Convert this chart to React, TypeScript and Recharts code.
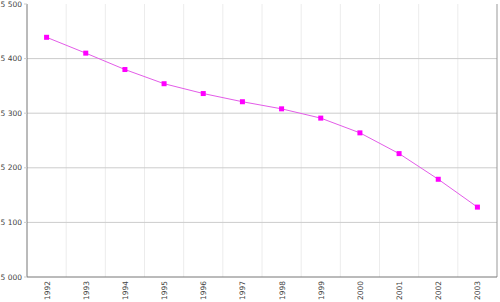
import { CartesianGrid, Line, LineChart, ReferenceLine, XAxis, YAxis } from "recharts";

const years = [1992, 1993, 1994, 1995, 1996, 1997, 1998, 1999, 2000, 2001, 2002, 2003];
const population = [5439, 5410, 5380, 5354, 5336, 5321, 5308, 5291, 5264, 5226, 5179, 5128];
const yTicks = [5000, 5100, 5200, 5300, 5400, 5500];
const hGrid = [5100, 5200, 5300, 5400];
const vGrid = [1992.5, 1993.5, 1994.5, 1995.5, 1996.5, 1997.5, 1998.5, 1999.5, 2000.5, 2001.5, 2002.5];

const data = years.map((year, i) => ({ year, value: population[i] }));

const FONT = "'DejaVu Sans', sans-serif";

// thousands separator as a non-breaking space so the label stays on one line
const fmt = (v: number) => {
  const s = String(v);
  return s.length > 3 ? s.slice(0, s.length - 3) + "\u00a0" + s.slice(-3) : s;
};

function YearTick(props: any) {
  const { x, y, payload } = props;
  return (
    <text
      x={0}
      y={0}
      transform={`translate(${x + 3},${y - 4}) rotate(-90)`}
      textAnchor="end"
      fontSize={7.5}
      fontFamily={FONT}
      fill="#444"
    >
      {payload.value}
    </text>
  );
}

function SquareDot(props: any) {
  const { cx, cy } = props;
  if (cx == null || cy == null) return null;
  return <rect x={cx - 2.5} y={cy - 2.5} width={5} height={5} fill="#ff00ff" />;
}

export default function App() {
  return (
    <div style={{ position: "absolute", left: 0, top: 0, background: "#fff" }}>
      <LineChart width={500} height={302} data={data} margin={{ top: 4, right: 3, left: 0, bottom: 0 }}>
        <CartesianGrid horizontal={false} verticalValues={vGrid} stroke="#ececec" strokeWidth={1} />
        <CartesianGrid vertical={false} horizontalValues={hGrid} stroke="#cccccc" strokeWidth={1} />
        <ReferenceLine x={2003.5} stroke="#999" />
        <XAxis
          dataKey="year"
          type="number"
          domain={[1991.5, 2003.5]}
          ticks={years}
          interval={0}
          height={25}
          tick={<YearTick />}
          tickLine={false}
          axisLine={{ stroke: "#777" }}
        />
        <YAxis
          domain={[5000, 5500]}
          ticks={yTicks}
          width={27}
          tickFormatter={fmt}
          tick={{ fontSize: 7.5, fontFamily: FONT, fill: "#444" }}
          tickSize={3}
          tickLine={{ stroke: "#ccc" }}
          axisLine={{ stroke: "#777" }}
        />
        <Line
          dataKey="value"
          stroke="#e35ce8"
          strokeWidth={1}
          dot={<SquareDot />}
          activeDot={false}
          isAnimationActive={false}
        />
      </LineChart>
    </div>
  );
}
